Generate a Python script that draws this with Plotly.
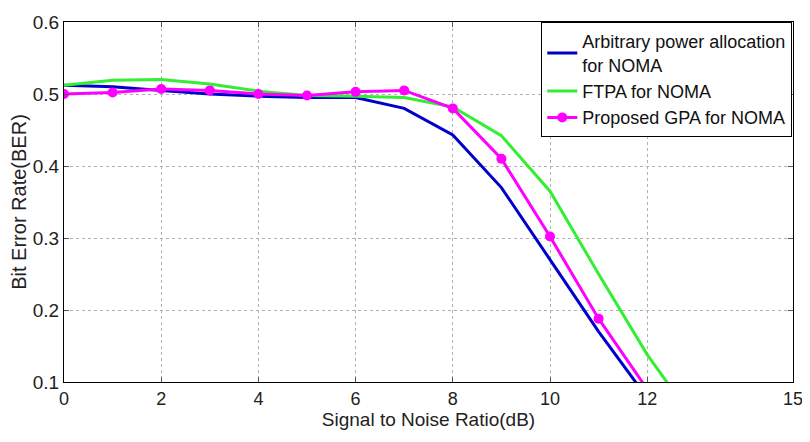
import plotly.graph_objects as go

snr = [0, 1, 2, 3, 4, 5, 6, 7, 8, 9, 10, 11, 12, 13]
ber_arbitrary = [0.512, 0.510, 0.505, 0.500, 0.497, 0.495, 0.495, 0.480, 0.443, 0.370, 0.270, 0.170, 0.078, 0.03]
ber_ftpa = [0.512, 0.519, 0.520, 0.514, 0.504, 0.498, 0.497, 0.495, 0.482, 0.442, 0.365, 0.250, 0.138, 0.044]
ber_gpa = [0.500, 0.502, 0.507, 0.505, 0.500, 0.498, 0.503, 0.505, 0.480, 0.410, 0.302, 0.188, 0.090, 0.03]

names = ["Arbitrary power allocation<br>for NOMA", "FTPA for NOMA", "Proposed GPA for NOMA"]
xticks = [0, 2, 4, 6, 8, 10, 12, 15]
yticks = [0.1, 0.2, 0.3, 0.4, 0.5, 0.6]

FONT = "Liberation Sans Narrow, Arial Narrow, Liberation Sans, Arial"

fig = go.Figure()
fig.add_trace(go.Scatter(x=snr, y=ber_arbitrary, mode="lines", name=names[0],
                         line=dict(color="#0000cc", width=3)))
fig.add_trace(go.Scatter(x=snr, y=ber_ftpa, mode="lines", name=names[1],
                         line=dict(color="#33ee33", width=3)))
fig.add_trace(go.Scatter(x=snr, y=ber_gpa, mode="lines+markers", name=names[2],
                         line=dict(color="#ff00ff", width=3),
                         marker=dict(color="#ff00ff", size=10, symbol="circle")))

axis_common = dict(showline=True, linecolor="black", linewidth=1, mirror="ticks",
                   ticks="inside", ticklen=5, tickcolor="#555", automargin=False,
                   ticklabeloverflow="allow",
                   showgrid=True, gridcolor="#b0b0b0", griddash="dot", gridwidth=1,
                   zeroline=False)

fig.update_layout(
    width=802, height=426,
    margin=dict(l=56, r=17, t=14, b=52),
    paper_bgcolor="white", plot_bgcolor="white",
    font=dict(family=FONT, color="#222"),
    xaxis=dict(range=[0, 15], tickvals=xticks, ticktext=[str(t) for t in xticks],
               tickfont=dict(size=18, color="#222", family=FONT),
               title=dict(text="Signal to Noise Ratio(dB)", font=dict(size=19, family=FONT), standoff=2),
               **axis_common),
    yaxis=dict(range=[0.1, 0.6], tickvals=yticks, ticktext=[f"{t:.1f}" for t in yticks],
               tickfont=dict(size=19, color="#222", family=FONT),
               title=dict(text="Bit Error Rate(BER)", font=dict(size=20, family=FONT), standoff=2),
               **axis_common),
    legend=dict(x=0.999, xanchor="right", y=1, yanchor="top",
                bgcolor="white", bordercolor="black", borderwidth=1,
                font=dict(size=18, family=FONT, color="#111"),
                itemwidth=30, tracegroupgap=0),
    showlegend=True,
)

fig.write_html("out.html")
